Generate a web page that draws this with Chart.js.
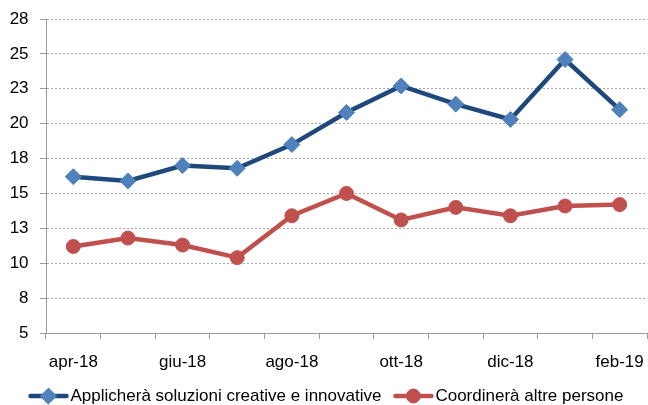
<!DOCTYPE html>
<html>
<head>
<meta charset="utf-8">
<script src="https://cdn.jsdelivr.net/npm/chart.js@4.4.1/dist/chart.umd.min.js"></script>
<style>
  html, body { margin: 0; padding: 0; background: #fff; overflow: hidden; }
  #wrap { width: 648px; height: 405px; }
</style>
</head>
<body>
<div id="wrap"><canvas id="grafico"></canvas></div>
<script>
var mesi = ['apr-18', 'mag-18', 'giu-18', 'lug-18', 'ago-18', 'set-18', 'ott-18', 'nov-18', 'dic-18', 'gen-19', 'feb-19']
var soluzioni = [16.2, 15.9, 17.0, 16.8, 18.5, 20.8, 22.7, 21.4, 20.3, 24.6, 21.0]
var coordinera = [11.2, 11.8, 11.3, 10.4, 13.4, 15.0, 13.1, 14.0, 13.4, 14.1, 14.2]
var nomiSerie = ['Applicherà soluzioni creative e innovative', 'Coordinerà altre persone']

var font = '"Liberation Sans", sans-serif'

// chart.js lascia spazio a destra per l'ultima etichetta: allargo l'area fino al bordo
var areaPlugin = {
    id: 'area',
    afterLayout(chart) {
        try {
            var destra = chart.width - 1
            var a = chart.chartArea
            var sx = chart.scales.x
            if (a.right < destra) {
                a.right = destra
                a.width = a.right - a.left
                sx.right = destra
                sx.width = sx.right - sx.left
                sx.configure()
            }
        } catch (e) {
            console.log(e)
        }
    }
}

// legenda disegnata a mano: linea con marcatore, come in Excel
var legendaPlugin = {
    id: 'legenda',
    afterDraw(chart) {
        var ctx = chart.ctx
        var y = 396
        ctx.save()
        ctx.font = '17px ' + font
        var w1 = ctx.measureText(nomiSerie[0]).width
        var w2 = ctx.measureText(nomiSerie[1]).width
        var totale = 40 + 2 + w1 + 12 + 40 + 2 + w2
        var x = 326 - totale / 2
        var stili = [
            { linea: '#1F497D', punto: '#4F81BD', tipo: 'rectRot', r: 8 },
            { linea: '#C0504D', punto: '#C0504D', tipo: 'circle', r: 7 }
        ]
        for (let i = 0; i < 2; i++) {
            var s = stili[i]
            ctx.strokeStyle = s.linea
            ctx.lineWidth = 4.5
            ctx.lineCap = 'round'
            ctx.beginPath()
            ctx.moveTo(x + 2, y)
            ctx.lineTo(x + 38, y)
            ctx.stroke()
            ctx.fillStyle = s.punto
            ctx.strokeStyle = s.punto
            ctx.lineWidth = 1
            Chart.helpers.drawPoint(ctx, { pointStyle: s.tipo, radius: s.r, rotation: 0, borderWidth: 1 }, x + 20, y)
            x += 42
            ctx.fillStyle = '#000'
            ctx.textBaseline = 'middle'
            ctx.fillText(nomiSerie[i], x, y)
            x += (i == 0 ? w1 : w2) + 12
        }
        ctx.restore()
    }
}

const ctx = document.getElementById('grafico').getContext('2d')
var myChart = new Chart(ctx, {
    type: 'line',
    data: {
        labels: mesi,
        datasets: [{
            label: nomiSerie[0],
            data: soluzioni,
            borderColor: '#1F497D',
            borderWidth: 4.5,
            pointStyle: 'rectRot',
            pointRadius: 8,
            pointBackgroundColor: '#4F81BD',
            pointBorderColor: '#4F81BD',
            pointBorderWidth: 1,
            tension: 0
        }, {
            label: nomiSerie[1],
            data: coordinera,
            borderColor: '#C0504D',
            borderWidth: 4.5,
            pointStyle: 'circle',
            pointRadius: 7,
            pointBackgroundColor: '#C0504D',
            pointBorderColor: '#C0504D',
            pointBorderWidth: 1,
            tension: 0
        }]
    },
    options: {
        responsive: true,
        maintainAspectRatio: false,
        animation: false,
        layout: { padding: { top: 19, right: 1, bottom: 0, left: 0 } },
        scales: {
            x: {
                offset: true,
                grid: { offset: true, drawOnChartArea: false, drawTicks: true, tickLength: 6, color: '#999' },
                border: { color: '#999', width: 1 },
                ticks: {
                    // padding 0 e riga vuota per abbassare il testo
                    autoSkip: false, maxRotation: 0, padding: 0, color: '#000',
                    font: { size: 17, family: font, lineHeight: 0.9 },
                    callback: function (v, i) { return i % 2 == 0 ? ['', mesi[i]] : '' }
                },
                afterFit: function (s) { s.height = 72 }
            },
            y: {
                min: 5,
                max: 27.5,
                grid: { color: '#A6A6A6', tickLength: 6, tickColor: '#999', tickBorderDash: [] },
                border: { color: '#999', width: 1, dash: [2, 2] },
                ticks: {
                    stepSize: 2.5, padding: 2, color: '#000',
                    font: { size: 17, family: font },
                    callback: function (v) { return Math.round(v) + '  ' }
                },
                afterFit: function (s) { s.width = 46 }
            }
        },
        plugins: {
            legend: { display: false },
            title: { display: false },
            tooltip: { enabled: false }
        }
    },
    plugins: [areaPlugin, legendaPlugin]
})
</script>
</body>
</html>
